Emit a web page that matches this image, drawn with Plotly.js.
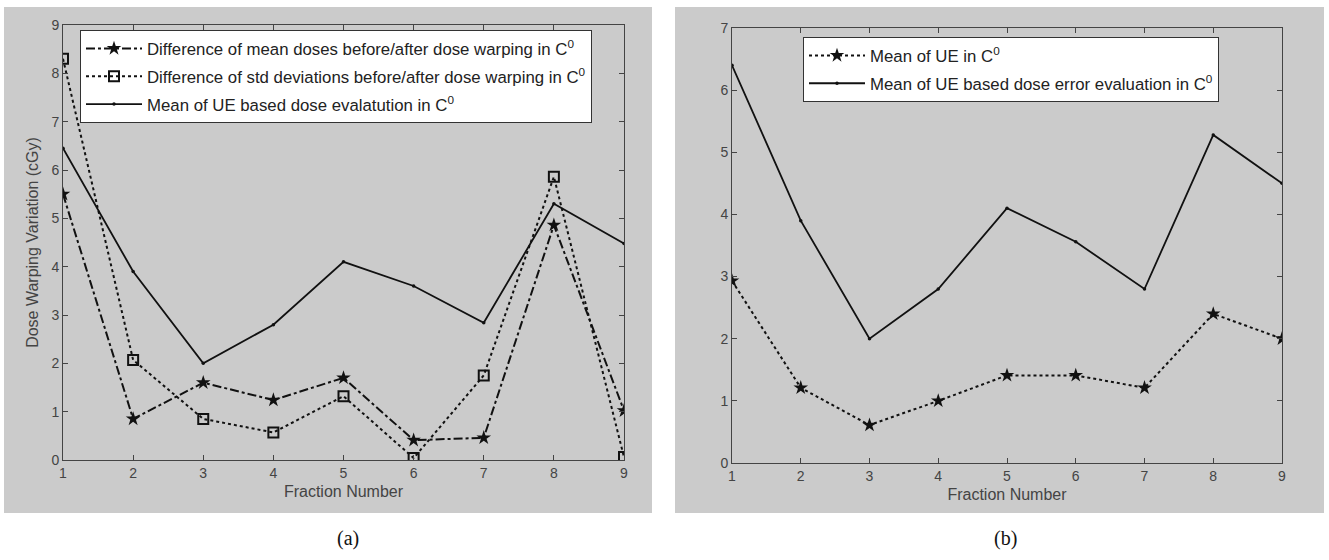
<!DOCTYPE html>
<html>
<head>
<meta charset="utf-8">
<script src="https://cdn.plot.ly/plotly-3.0.1.min.js"></script>
<style>html,body{margin:0;padding:0;background:#fff;}#chart{width:1329px;height:560px;}</style>
</head>
<body>
<div id="chart"></div>
<script>
// ---- data ----
const fractions = [1, 2, 3, 4, 5, 6, 7, 8, 9];
const meanDoseDiff = [5.5, 0.85, 1.6, 1.24, 1.7, 0.41, 0.46, 4.86, 1.02];
const stdDevDiff = [8.3, 2.07, 0.85, 0.57, 1.32, 0.04, 1.75, 5.86, 0.06];
const meanUEDoseEvalA = [6.45, 3.9, 2.0, 2.8, 4.1, 3.6, 2.84, 5.3, 4.48];
const meanUE = [2.93, 1.21, 0.61, 1.0, 1.41, 1.41, 1.21, 2.4, 2.0];
const meanUEDoseEvalB = [6.4, 3.9, 2.0, 2.8, 4.1, 3.56, 2.8, 5.28, 4.5];
const xTicks = [1, 2, 3, 4, 5, 6, 7, 8, 9];
const yTicksA = [0, 1, 2, 3, 4, 5, 6, 7, 8, 9];
const yTicksB = [0, 1, 2, 3, 4, 5, 6, 7];
const namesA = [
  'Difference of mean doses before/after dose warping in C<sup>0</sup>',
  'Difference of std deviations before/after dose warping in C<sup>0</sup>',
  'Mean of UE based dose evalatution in C<sup>0</sup>'
];
const namesB = [
  'Mean of UE in C<sup>0</sup>',
  'Mean of UE based dose error evaluation in C<sup>0</sup>'
];

// ---- geometry (pixels) ----
const W = 1329, H = 560;
const L = 63, R = 1282, T = 25, B = 463;
const pw = R - L, ph = B - T;
const px = v => (v - L) / pw;
const py = v => (B - v) / ph;

const ink = '#111';
const traces = [
  {x: fractions, y: meanDoseDiff, name: namesA[0], xaxis: 'x', yaxis: 'y', legend: 'legend', legendgroup: 'a1',
   mode: 'lines+markers', line: {color: ink, width: 2, dash: 'dashdot'},
   marker: {symbol: 'star', size: 11, color: ink}},
  {x: fractions, y: stdDevDiff, name: namesA[1], xaxis: 'x', yaxis: 'y', legend: 'legend', legendgroup: 'a2',
   mode: 'lines+markers', line: {color: ink, width: 2, dash: 'dot'},
   marker: {symbol: 'square-open', size: 10, color: ink, line: {width: 2, color: ink}}},
  {x: fractions, y: meanUEDoseEvalA, name: namesA[2], xaxis: 'x', yaxis: 'y', legend: 'legend', legendgroup: 'a3',
   mode: 'lines+markers', line: {color: ink, width: 1.8},
   marker: {symbol: 'circle', size: 3.5, color: ink}},
  {x: fractions, y: meanUE, name: namesB[0], xaxis: 'x2', yaxis: 'y2', legend: 'legend2', legendgroup: 'b1',
   mode: 'lines+markers', line: {color: ink, width: 2, dash: 'dot'},
   marker: {symbol: 'star', size: 11, color: ink}},
  {x: fractions, y: meanUEDoseEvalB, name: namesB[1], xaxis: 'x2', yaxis: 'y2', legend: 'legend2', legendgroup: 'b2',
   mode: 'lines+markers', line: {color: ink, width: 1.8},
   marker: {symbol: 'circle', size: 3.5, color: ink}}
];

const FONT = 'Liberation Sans, Arial, sans-serif';
const tickFont = {family: FONT, size: 14, color: '#444'};
const axCommon = {
  showgrid: false, zeroline: false, showline: true, linecolor: '#444', linewidth: 1,
  mirror: 'ticks', ticks: 'inside', ticklen: 5, tickcolor: '#444', tickfont: tickFont
};
const legendFont = {family: FONT, size: 16.8, color: '#222'};
const gray = '#cbcbcb';
const layout = {
  width: W, height: H,
  margin: {l: L, r: W - R, t: T, b: H - B},
  paper_bgcolor: '#fff', plot_bgcolor: '#fff',
  showlegend: true,
  xaxis: Object.assign({}, axCommon, {domain: [0, px(624)], range: [1, 9], tickvals: xTicks,
    title: {text: 'Fraction Number', font: {family: FONT, size: 16, color: '#444'}, standoff: 6}, anchor: 'y'}),
  yaxis: Object.assign({}, axCommon, {domain: [py(460), 1], range: [0, 9], tickvals: yTicksA,
    title: {text: 'Dose Warping Variation (cGy)', font: {family: FONT, size: 16, color: '#444'}, standoff: 8}, anchor: 'x'}),
  xaxis2: Object.assign({}, axCommon, {domain: [px(732), 1], range: [1, 9], tickvals: xTicks,
    title: {text: 'Fraction Number', font: {family: FONT, size: 16, color: '#444'}, standoff: 6}, anchor: 'y2'}),
  yaxis2: Object.assign({}, axCommon, {domain: [0, py(28)], range: [0, 7], tickvals: yTicksB, anchor: 'x2'}),
  legend: {x: px(80), y: py(30), xanchor: 'left', yanchor: 'top', bgcolor: '#fff', bordercolor: '#333', borderwidth: 1,
    font: legendFont, itemwidth: 56, tracegroupgap: 3, traceorder: 'grouped'},
  legend2: {x: px(803), y: py(37), xanchor: 'left', yanchor: 'top', bgcolor: '#fff', bordercolor: '#333', borderwidth: 1,
    font: legendFont, itemwidth: 56, tracegroupgap: 3, traceorder: 'grouped'},
  shapes: [
    {type: 'rect', xref: 'paper', yref: 'paper', x0: px(4), x1: px(652), y0: py(513), y1: py(7), fillcolor: gray, line: {width: 0}, layer: 'below'},
    {type: 'rect', xref: 'paper', yref: 'paper', x0: px(675), x1: px(1324), y0: py(513), y1: py(7), fillcolor: gray, line: {width: 0}, layer: 'below'}
  ],
  annotations: [
    {text: '(a)', xref: 'paper', yref: 'paper', x: px(348), y: py(538), xanchor: 'center', yanchor: 'middle', showarrow: false,
     font: {family: 'Liberation Serif, Times New Roman, serif', size: 20, color: '#111'}},
    {text: '(b)', xref: 'paper', yref: 'paper', x: px(1005), y: py(538), xanchor: 'center', yanchor: 'middle', showarrow: false,
     font: {family: 'Liberation Serif, Times New Roman, serif', size: 20, color: '#111'}}
  ]
};

Plotly.newPlot('chart', traces, layout, {displayModeBar: false, staticPlot: true});
</script>
</body>
</html>
